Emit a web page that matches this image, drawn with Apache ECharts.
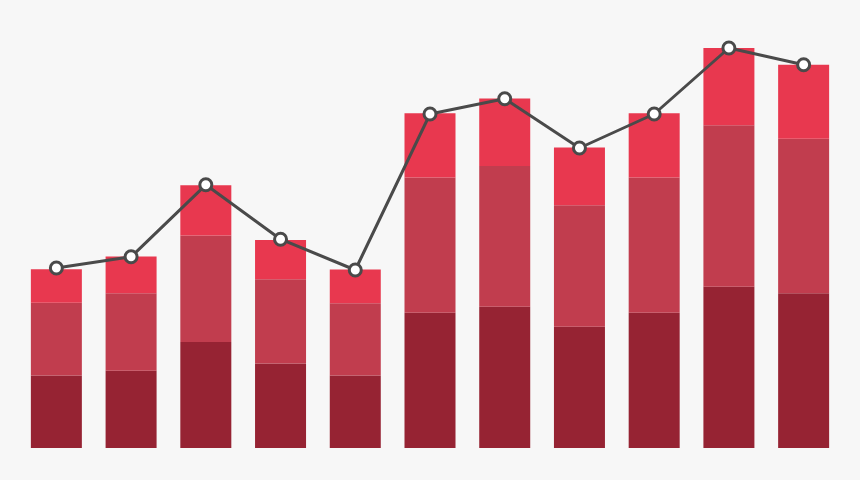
<!DOCTYPE html>
<html>
<head>
<meta charset="utf-8">
<style>
  html, body { margin: 0; padding: 0; background: #f7f7f7; }
  #main { width: 860px; height: 480px; }
</style>
<script src="https://cdn.jsdelivr.net/npm/echarts@6/dist/echarts.min.js"></script>
</head>
<body>
<div id="main"></div>
<script>
// values (arbitrary 0-105 scale)
const categories = ['1', '2', '3', '4', '5', '6', '7', '8', '9', '10', '11'];
const baseValues = [18.1, 19.3, 26.5, 21.1, 18.1, 33.8, 35.3, 30.3, 33.8, 40.3, 38.7];
const midValues = [18.2, 19.4, 26.6, 21.1, 18.1, 33.8, 35.2, 30.4, 33.8, 40.4, 38.6];
const topValues = [8.4, 9.2, 12.6, 9.8, 8.4, 16.1, 16.9, 14.4, 16.1, 19.3, 18.5];
const trendValues = [45.0, 47.8, 65.8, 52.2, 44.5, 83.5, 87.3, 75.0, 83.5, 100.0, 95.8];

const chart = echarts.init(document.getElementById('main'));

const barSeries = (name, data, color) => ({
  name,
  type: 'bar',
  stack: 'total',
  barWidth: 51,
  data,
  itemStyle: { color },
  z: 2
});

chart.setOption({
  animation: false,
  backgroundColor: '#f7f7f7',
  grid: { left: 19, right: 19, top: 28, bottom: 32 },
  xAxis: {
    type: 'category',
    data: categories,
    show: false
  },
  yAxis: {
    type: 'value',
    min: 0,
    max: 105,
    show: false
  },
  series: [
    barSeries('base', baseValues, '#962333'),
    barSeries('middle', midValues, '#c13d4e'),
    barSeries('top', topValues, '#e8384f'),
    {
      name: 'trend',
      type: 'line',
      data: trendValues,
      symbol: 'circle',
      symbolSize: 12,
      lineStyle: { color: '#4a4a4a', width: 3 },
      itemStyle: { color: '#ffffff', borderColor: '#4a4a4a', borderWidth: 3 },
      z: 5
    }
  ]
});
</script>
</body>
</html>
